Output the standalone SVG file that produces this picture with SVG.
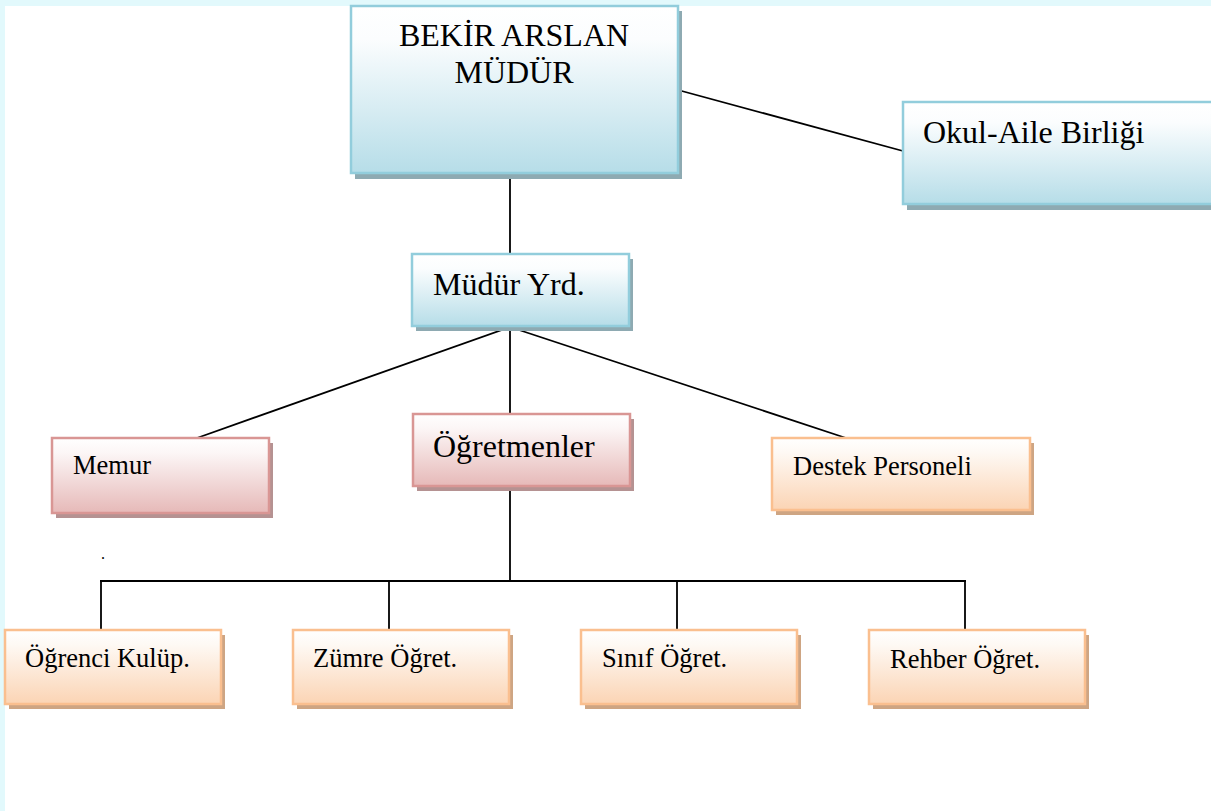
<svg xmlns="http://www.w3.org/2000/svg" width="1211" height="811" viewBox="0 0 1211 811">
<defs>
<linearGradient id="gBlue" x1="0" y1="0" x2="0" y2="1">
<stop offset="0" stop-color="#ffffff"/><stop offset="0.2" stop-color="#fbfdfe"/><stop offset="1" stop-color="#b6dde8"/>
</linearGradient>
<linearGradient id="gPink" x1="0" y1="0" x2="0" y2="1">
<stop offset="0" stop-color="#ffffff"/><stop offset="0.2" stop-color="#fcf6f6"/><stop offset="1" stop-color="#e6b9b8"/>
</linearGradient>
<linearGradient id="gOrange" x1="0" y1="0" x2="0" y2="1">
<stop offset="0" stop-color="#ffffff"/><stop offset="0.2" stop-color="#fef9f4"/><stop offset="1" stop-color="#fbd4b4"/>
</linearGradient>
<style>
.t{font-family:"Liberation Serif","Times New Roman",serif;fill:#000}
.big{font-size:32px}
.sm{font-size:26.5px}
.bs{fill:#8eaab2}
.ps{fill:#b59292}
.os{fill:#cea583}
.b{fill:url(#gBlue);stroke:#92cddc;stroke-width:2.5}
.p{fill:url(#gPink);stroke:#d99694;stroke-width:2.5}
.o{fill:url(#gOrange);stroke:#fabf8f;stroke-width:2.5}
.c line{stroke:#000;stroke-width:1.8}
</style>
</defs>
<rect width="1211" height="811" fill="#e2f9fc"/>
<rect x="5" y="6" width="1206" height="805" fill="#ffffff"/>
<g class="c" id="connectors">
<line x1="510" y1="173" x2="510" y2="254"/>
<line x1="678" y1="90" x2="903" y2="151"/>
<line x1="510" y1="327" x2="197" y2="438"/>
<line x1="510" y1="327" x2="510" y2="414"/>
<line x1="510" y1="327" x2="846" y2="438"/>
<line x1="510" y1="486" x2="510" y2="581"/>
<line x1="100" y1="581" x2="966" y2="581"/>
<line x1="101" y1="580" x2="101" y2="631"/>
<line x1="389" y1="580" x2="389" y2="631"/>
<line x1="677" y1="580" x2="677" y2="631"/>
<line x1="965" y1="580" x2="965" y2="631"/>
</g>
<g id="mudur">
<rect class="bs" x="355" y="11" width="327" height="168"/>
<rect class="b" x="351" y="6" width="327" height="167"/>
<text class="t big" x="514" y="46" text-anchor="middle">BEKİR ARSLAN</text>
<text class="t big" x="514" y="83" text-anchor="middle">MÜDÜR</text>
</g>
<g id="okul-aile">
<rect class="bs" x="907" y="107" width="310" height="103"/>
<rect class="b" x="903" y="102" width="312" height="102"/>
<text class="t big" x="923" y="143">Okul-Aile Birliği</text>
</g>
<g id="mudur-yrd">
<rect class="bs" x="416" y="259" width="217" height="72"/>
<rect class="b" x="412" y="254" width="217" height="72"/>
<text class="t big" x="433" y="295">Müdür Yrd.</text>
</g>
<g id="memur">
<rect class="ps" x="56" y="443" width="217" height="75"/>
<rect class="p" x="52" y="438" width="217" height="75"/>
<text class="t sm" x="73" y="474">Memur</text>
</g>
<g id="ogretmenler">
<rect class="ps" x="417" y="419" width="217" height="72"/>
<rect class="p" x="413" y="414" width="217" height="72"/>
<text class="t big" x="433" y="457">Öğretmenler</text>
</g>
<g id="destek">
<rect class="os" x="776" y="443" width="258" height="72"/>
<rect class="o" x="772" y="438" width="258" height="72"/>
<text class="t sm" x="793" y="475">Destek Personeli</text>
</g>
<text class="t" x="101" y="559" font-size="16">.</text>
<g id="ogrenci-kulup">
<rect class="os" x="9" y="635" width="216" height="74"/>
<rect class="o" x="5" y="630" width="216" height="74"/>
<text class="t sm" x="25" y="667">Öğrenci Kulüp.</text>
</g>
<g id="zumre">
<rect class="os" x="297" y="635" width="216" height="74"/>
<rect class="o" x="293" y="630" width="216" height="74"/>
<text class="t sm" x="313" y="667">Zümre Öğret.</text>
</g>
<g id="sinif">
<rect class="os" x="585" y="635" width="216" height="74"/>
<rect class="o" x="581" y="630" width="216" height="74"/>
<text class="t sm" x="602" y="667">Sınıf Öğret.</text>
</g>
<g id="rehber">
<rect class="os" x="873" y="635" width="216" height="74"/>
<rect class="o" x="869" y="630" width="216" height="74"/>
<text class="t sm" x="890" y="668">Rehber Öğret.</text>
</g>
</svg>
